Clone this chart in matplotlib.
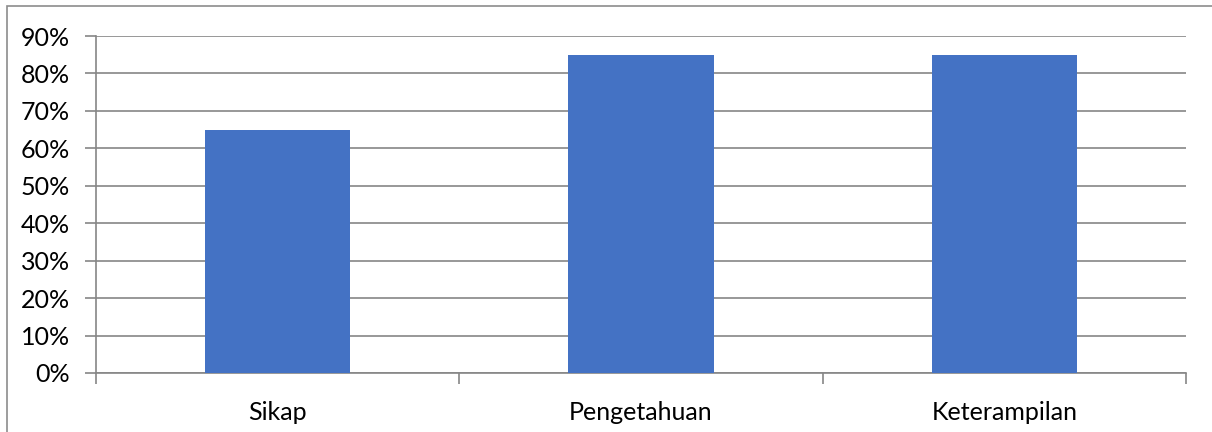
import matplotlib.pyplot as plt
from matplotlib.patches import Rectangle
from matplotlib.ticker import FuncFormatter, MultipleLocator

# data
categories = ["Sikap", "Pengetahuan", "Keterampilan"]
values = [0.65, 0.85, 0.85]

plt.rcParams['font.family'] = ['Lato', 'DejaVu Sans']

fig = plt.figure(figsize=(12.12, 4.32), dpi=100)
ax = fig.add_axes([96 / 1212, 1 - 373 / 432, 1090 / 1212, 337 / 432])

x = range(len(categories))
ax.bar(x, values, width=0.4, color='#4472C4', zorder=3)

ax.set_xlim(-0.5, len(categories) - 0.5)
ax.set_ylim(0, 0.9)
ax.yaxis.set_major_locator(MultipleLocator(0.1))
ax.yaxis.set_major_formatter(FuncFormatter(lambda v, p: f"{v*100:.0f}%"))
ax.grid(axis='y', color='#868686', linewidth=1.2, zorder=0)

# category labels centred, ticks on the boundaries
ax.set_xticks([i - 0.5 for i in range(len(categories) + 1)])
ax.set_xticklabels([])
ax.set_xticks(list(x), minor=True)
ax.set_xticklabels(categories, minor=True)
ax.tick_params(axis='x', which='minor', length=0, pad=20, labelsize=18)
ax.tick_params(axis='x', which='major', length=8, color='#868686', width=1.2)
ax.tick_params(axis='y', length=8, color='#868686', width=1.2, labelsize=18, pad=11)

for s in ['top', 'right']:
    ax.spines[s].set_visible(False)
ax.spines['left'].set_color('#868686')
ax.spines['bottom'].set_color('#868686')
ax.spines['left'].set_linewidth(1.2)
ax.spines['bottom'].set_linewidth(1.2)

# outer chart border
fig.patches.append(Rectangle((7 / 1212, -0.1), 1.2, 1 - 6 / 432 + 0.1, transform=fig.transFigure,
                             fill=False, edgecolor='#8c8c8c', linewidth=1.2))

fig.savefig("out.png", dpi=100)
